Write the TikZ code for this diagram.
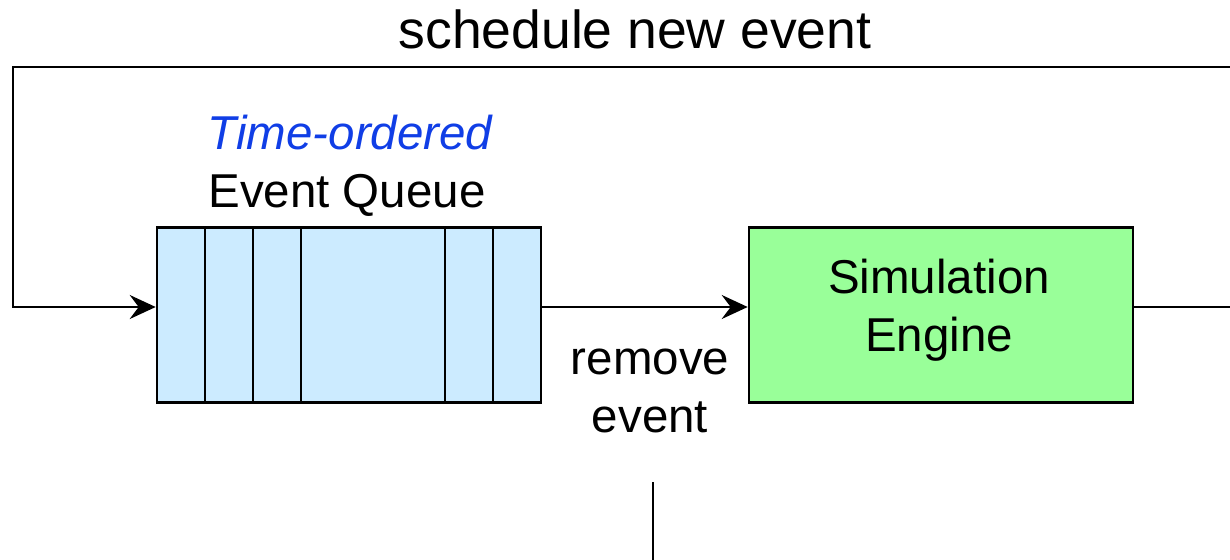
\documentclass[tikz,border=0pt]{standalone}
\usepackage{fontspec}
\setmainfont{Liberation Sans}
\usetikzlibrary{arrows.meta,calc}
\definecolor{queuefill}{RGB}{204,235,255}
\definecolor{enginefill}{RGB}{153,255,153}
\definecolor{labelblue}{RGB}{16,62,230}
\tikzset{
  box/.style={draw=black, line width=2.6pt, inner sep=0pt, minimum height=175pt, minimum width=384pt},
  queuebox/.style={box, fill=queuefill},
  enginebox/.style={box, fill=enginefill, align=center, font=\fontsize{47.5}{57}\selectfont},
  wire/.style={draw=black, line width=2.6pt},
  flow/.style={wire, -{Stealth[length=26pt,width=24pt,inset=9pt]}},
  lbl/.style={inner sep=0pt, align=center, font=\fontsize{47.5}{57}\selectfont},
}
\begin{document}
\begin{tikzpicture}[x=1pt,y=-1pt]
  \useasboundingbox (0,0) rectangle (1230,559);
  \clip (0,0) rectangle (1230,559);

  % the queue and the engine
  \node[queuebox] (q) at (349,315) {};
  \node[enginebox] (e) at (941,315) {\hspace*{-4pt}\raisebox{2pt}[\dimexpr\height-2pt][\dimexpr\depth+2pt]{\begin{tabular}{@{}c@{}}Simulation\\[1pt]Engine\end{tabular}}};

  % slots of the queue
  \foreach \sx in {205,253,301,445,493}
    \draw[wire, line width=2.2pt] (\sx,0 |- q.north) -- (\sx,0 |- q.south);

  % level of the flow lines
  \coordinate (lv) at (0,307);
  \coordinate (loopR) at (1300,67);
  \coordinate (loopL) at (13,67);
  \coordinate (outB) at (653,482);
  \coordinate (outE) at (653,600);

  % queue -> engine
  \draw[flow] (q.east |- lv) -- (e.west |- lv);

  % engine output loops back into the queue
  \draw[flow] (e.east |- lv) -| (loopR) -- (loopL) |- (q.west |- lv);

  % line leaving downwards
  \draw[wire] (outB) -- (outE);

  % labels
  \node[lbl, font=\fontsize{53.5}{64}\selectfont, anchor=base] (sched) at (635,49) {schedule new event};
  \node[lbl, anchor=base, text=labelblue, font=\fontsize{47.5}{57}\selectfont\itshape] (tord) at (350,149) {Time-ordered};
  \node[lbl, anchor=base] (evq) at (347,207) {Event Queue};
  \node[lbl, anchor=base, font=\fontsize{47.5}{58}\selectfont] (rm) at (650,432) {remove\\event};
\end{tikzpicture}
\end{document}
